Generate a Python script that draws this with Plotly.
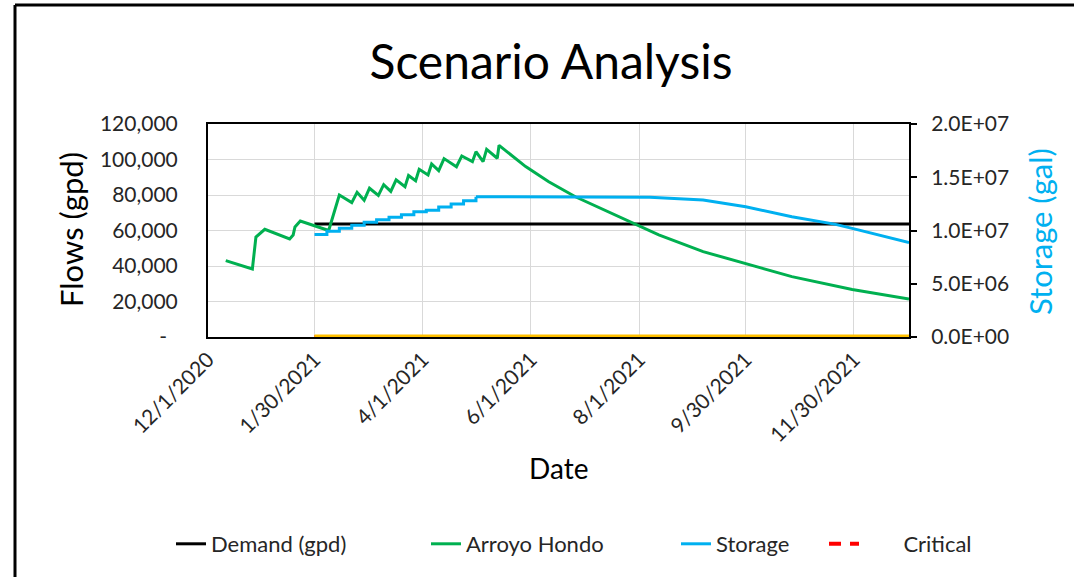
import plotly.graph_objects as go

# ---------------- data ----------------
tick_dates = ["2020-12-01", "2021-01-30", "2021-04-01", "2021-06-01",
              "2021-08-01", "2021-09-30", "2021-11-30"]
tick_labels = ["12/1/2020", "1/30/2021", "4/1/2021", "6/1/2021",
               "8/1/2021", "9/30/2021", "11/30/2021"]

flow_ticks = [0, 20000, 40000, 60000, 80000, 100000, 120000]
flow_labels = ["-\u00a0\u00a0", "20,000", "40,000", "60,000", "80,000", "100,000", "120,000"]
storage_ticks = [0, 5e6, 1e7, 1.5e7, 2e7]
storage_labels = ["0.0E+00", "5.0E+06", "1.0E+07", "1.5E+07", "2.0E+07"]

demand_dates = ["2021-01-30", "2021-12-31"]
demand_values = [63700, 63700]

arroyo_dates = [
    "2020-12-11", "2020-12-26", "2020-12-28", "2020-12-29", "2021-01-02",
    "2021-01-16", "2021-01-18", "2021-01-19", "2021-01-22", "2021-02-07",
    "2021-02-13", "2021-02-20", "2021-02-23", "2021-02-27", "2021-03-02",
    "2021-03-07", "2021-03-10", "2021-03-14", "2021-03-17", "2021-03-22",
    "2021-03-24", "2021-03-28", "2021-03-30", "2021-04-04", "2021-04-06",
    "2021-04-10", "2021-04-13", "2021-04-20", "2021-04-23", "2021-04-29",
    "2021-05-01", "2021-05-05", "2021-05-07", "2021-05-13", "2021-05-14",
    "2021-05-29", "2021-06-11", "2021-06-26", "2021-07-21", "2021-07-31",
    "2021-08-12", "2021-09-06", "2021-09-30", "2021-10-26", "2021-11-29",
    "2021-12-31",
]
arroyo_values = [
    43000, 38300, 56300, 57200, 60700,
    55200, 57500, 62000, 65300, 60000,
    80000, 75700, 81500, 77000, 83800,
    79800, 85800, 82000, 88500, 84700,
    91000, 88000, 94500, 91300, 97500,
    93700, 100500, 95900, 102000, 98800,
    104400, 98800, 105700, 100700, 108000,
    96000, 87500, 79000, 67800, 63100,
    57500, 48100, 41500, 34000, 26800,
    21400,
]

storage_step_dates = [
    "2021-01-30", "2021-02-06", "2021-02-13", "2021-02-20", "2021-02-27",
    "2021-03-06", "2021-03-13", "2021-03-20", "2021-03-27", "2021-04-03",
    "2021-04-10", "2021-04-17", "2021-04-24", "2021-05-01",
]
storage_step_values = [
    9.62e6, 9.92e6, 1.02e7, 1.05e7, 1.077e7,
    1.10e7, 1.124e7, 1.148e7, 1.175e7, 1.19e7,
    1.22e7, 1.25e7, 1.28e7, 1.317e7,
]
storage_tail_dates = ["2021-05-01", "2021-07-25", "2021-08-07", "2021-09-06",
                      "2021-09-30", "2021-10-26", "2021-11-19", "2021-11-29",
                      "2021-12-31"]
storage_tail_values = [1.317e7, 1.317e7, 1.312e7, 1.286e7,
                       1.223e7, 1.13e7, 1.06e7, 1.02e7, 8.86e6]

critical_dates = ["2021-01-30", "2021-12-31"]
critical_values = [0, 0]
zero_dates = ["2021-01-30", "2021-12-31"]
zero_values = [0, 0]

# ---------------- figure ----------------
FONT = "Lato, 'Open Sans', sans-serif"
TXT = "#262626"
GREEN = "#00B050"
BLUE = "#00B0F0"

W, H = 1074, 577
L, R, T, B = 208, 909, 124, 337   # plot area in pixels
pw, ph = R - L, B - T


def px(xp):
    return (xp - L) / pw


def py(yp):
    return (B - yp) / ph


fig = go.Figure()
fig.add_trace(go.Scatter(x=critical_dates, y=critical_values, mode="lines",
                         name="\u00a0" * 7 + "Critical", legend="legend4",
                         line=dict(color="#FF0000", width=4, dash="12px,9px")))
fig.add_trace(go.Scatter(x=demand_dates, y=demand_values, mode="lines",
                         name="Demand (gpd)", legend="legend",
                         line=dict(color="black", width=3)))
fig.add_trace(go.Scatter(x=arroyo_dates, y=arroyo_values, mode="lines",
                         name="Arroyo Hondo", legend="legend2",
                         line=dict(color=GREEN, width=3)))
fig.add_trace(go.Scatter(x=storage_step_dates, y=storage_step_values, mode="lines",
                         name="Storage", legendgroup="storage", yaxis="y2", legend="legend3",
                         line=dict(color=BLUE, width=3, shape="hv")))
fig.add_trace(go.Scatter(x=storage_tail_dates, y=storage_tail_values, mode="lines",
                         name="Storage", legendgroup="storage", showlegend=False,
                         yaxis="y2", legend="legend3", line=dict(color=BLUE, width=3)))
fig.add_trace(go.Scatter(x=zero_dates, y=zero_values, mode="lines",
                         name="Zero", showlegend=False,
                         line=dict(color="#FFC000", width=5)))

leg_common = dict(orientation="h", xanchor="left", yanchor="middle", y=py(544),
                  font=dict(size=22, color=TXT, family=FONT), bgcolor="rgba(0,0,0,0)")

fig.update_layout(
    width=W, height=H,
    margin=dict(l=L, r=W - R, t=T, b=H - B, autoexpand=False),
    paper_bgcolor="white", plot_bgcolor="white",
    font=dict(family=FONT, color=TXT, size=20),
    title=dict(text="Scenario Analysis", xref="container", yref="container",
               x=551 / W, y=1 - 62 / H, xanchor="center", yanchor="middle",
               font=dict(size=48, color="black", family=FONT)),
    xaxis=dict(type="date", range=["2020-12-01", "2021-12-31"],
               tickvals=tick_dates, ticktext=tick_labels, tickangle=-45,
               tickfont=dict(size=21, color=TXT),
               showgrid=True, gridcolor="#d9d9d9", gridwidth=1,
               showline=True, linecolor="black", linewidth=2, mirror=True,
               ticks="", zeroline=False, layer="below traces"),
    yaxis=dict(range=[0, 120000], tickvals=flow_ticks, ticktext=flow_labels,
               tickfont=dict(size=21, color=TXT), ticklabelstandoff=24,
               showgrid=True, gridcolor="#d9d9d9", gridwidth=1,
               showline=True, linecolor="black", linewidth=2, mirror=True,
               ticks="", zeroline=False, layer="below traces"),
    yaxis2=dict(range=[0, 2e7], overlaying="y", side="right",
                tickvals=storage_ticks, ticktext=storage_labels,
                tickfont=dict(size=21, color=TXT), ticklabelstandoff=10,
                showgrid=False, showline=True, linecolor="black", linewidth=2,
                ticks="outside", ticklen=6, tickcolor="black", tickwidth=2,
                zeroline=False),
    legend=dict(leg_common, x=px(213 - 42)),
    legend2=dict(leg_common, x=px(468 - 42)),
    legend3=dict(leg_common, x=px(718 - 42)),
    legend4=dict(leg_common, x=px(832 - 8)),
    showlegend=True,
)

fig.add_annotation(text="Flows (gpd)", x=px(71), y=py(230), xref="paper", yref="paper",
                   textangle=-90, showarrow=False, font=dict(size=31, color="black"),
                   xanchor="center", yanchor="middle")
fig.add_annotation(text="Storage (gal)", x=px(1040), y=py(232), xref="paper", yref="paper",
                   textangle=-90, showarrow=False, font=dict(size=31, color=BLUE),
                   xanchor="center", yanchor="middle")
fig.add_annotation(text="Date", x=px(558), y=py(468), xref="paper", yref="paper",
                   showarrow=False, font=dict(size=28, color="black"),
                   xanchor="center", yanchor="middle")

# outer chart border (left and top)
fig.add_shape(type="line", xref="paper", yref="paper", x0=px(15), x1=px(15),
              y0=py(5), y1=py(600), line=dict(color="black", width=3))
fig.add_shape(type="line", xref="paper", yref="paper", x0=px(15), x1=px(1100),
              y0=py(5), y1=py(5), line=dict(color="black", width=3))

fig.write_html("out.html", config={"displayModeBar": False},
               post_script="document.body.style.margin='0';document.body.style.overflow='hidden';")
